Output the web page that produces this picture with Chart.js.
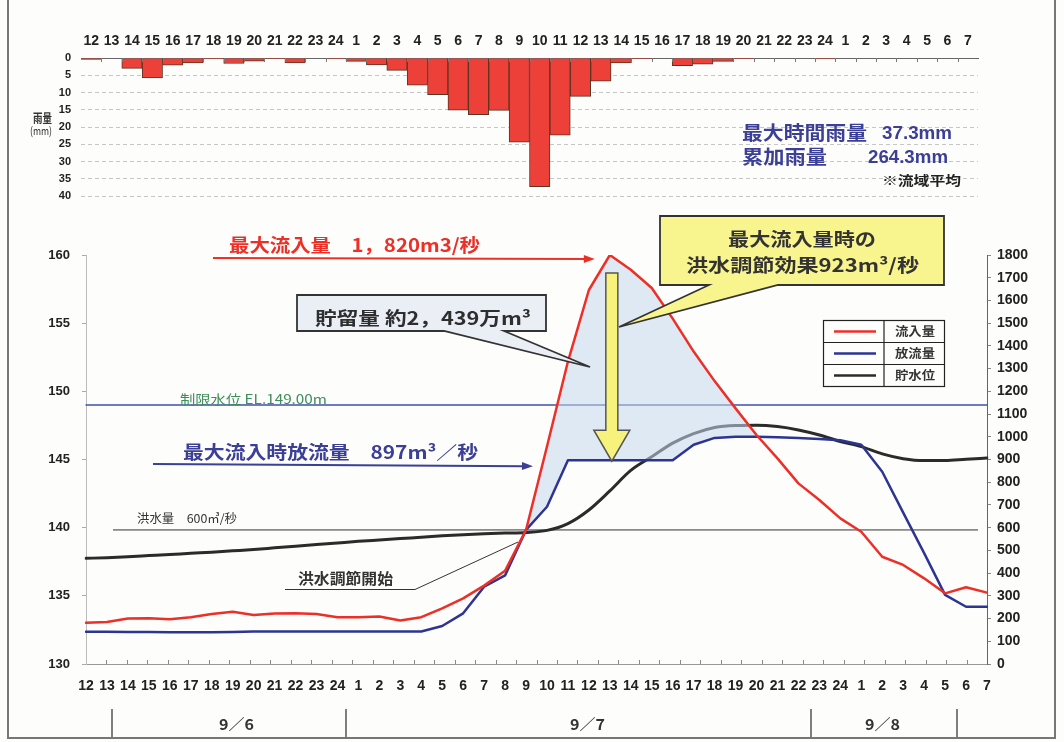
<!DOCTYPE html>
<html lang="ja">
<head>
<meta charset="utf-8">
<title>洪水調節図</title>
<script src="https://cdn.jsdelivr.net/npm/chart.js@4.4.1/dist/chart.umd.min.js"></script>
<style>
  body { margin: 0; background: #fdfdfb; }
  #wrap { position: relative; width: 1064px; height: 742px; }
  canvas { position: absolute; left: 0; top: 0; }
</style>
</head>
<body>
<div id="wrap">
  <canvas id="rainChart" width="1064" height="210"></canvas>
  <canvas id="flowChart" width="1064" height="742"></canvas>
</div>
<script>
// hours from 9/6 12時 to 9/8 7時
const hourLabels = [
  '12','13','14','15','16','17','18','19','20','21','22','23','24',
  '1','2','3','4','5','6','7','8','9','10','11','12','13','14','15','16','17','18','19','20','21','22','23','24',
  '1','2','3','4','5','6','7'
];

// 雨量 (mm)
const rainfall = [0.4,0,3.0,5.8,2.1,1.4,0.3,1.6,0.9,0.2,1.4,0,0.3,
  1.0,2.0,3.6,7.9,10.6,15.1,16.4,15.2,24.4,37.3,22.4,11.1,6.7,1.4,0.2,0,2.2,1.8,1.0,0.2,0,0,0,0.3,
  0,0,0,0,0,0,0];

// 流入量 / 放流量 (m3/s, right axis)
const inflow = [182,185,200,201,197,206,220,230,216,222,223,220,206,
  206,209,191,206,245,289,345,410,590,957,1331,1646,1800,1735,1655,1520,1375,1245,1125,1008,905,795,722,641,
  582,472,436,377,311,338,314];
const outflow = [142,142,141,141,140,140,140,141,143,143,143,143,143,
  143,143,143,143,167,223,340,390,590,692,897,897,897,897,897,897,965,995,1000,1000,998,995,990,985,
  965,846,666,488,304,252,252];

// 貯水位 (EL m, left axis)
const waterLevel = [137.75,137.8,137.87,137.95,138.03,138.12,138.2,138.3,138.4,138.52,138.64,138.76,138.88,
  139.0,139.1,139.2,139.3,139.4,139.48,139.55,139.6,139.65,139.8,140.3,141.3,142.7,144.2,145.2,146.2,146.9,147.35,147.5,147.52,147.42,147.17,146.8,146.32,
  145.94,145.41,145.06,144.92,144.92,145.02,145.11];

const limitLevel = 149.0;   // 制限水位
const floodFlow = 590;      // 洪水量 line
const storageFrom = 21, storageTo = 32;  // shaded storage period
const dayLabels = ['9／6', '9／7', '9／8'];

const SANS = "'Liberation Sans', Arial, sans-serif";
const JP = "'Noto Sans CJK JP', sans-serif";
const NAVY = '#3b3f96';
const RED = '#ec2f27';

// draw text squeezed/stretched to a given width
function fitText(ctx, text, x, y, w, font, color) {
  ctx.save();
  ctx.font = font;
  ctx.fillStyle = color;
  ctx.textBaseline = 'middle';
  ctx.textAlign = 'left';
  const m = ctx.measureText(text).width;
  ctx.translate(x, y);
  ctx.scale(w / m, 1);
  ctx.fillText(text, 0, 0);
  ctx.restore();
}

function arrow(ctx, x1, y1, x2, y2, color) {
  const a = Math.atan2(y2 - y1, x2 - x1);
  const c = Math.cos(a), s = Math.sin(a);
  ctx.save();
  ctx.strokeStyle = color;
  ctx.fillStyle = color;
  ctx.lineWidth = 2;
  ctx.beginPath();
  ctx.moveTo(x1, y1);
  ctx.lineTo(x2 - 8 * c, y2 - 8 * s);
  ctx.stroke();
  ctx.beginPath();
  ctx.moveTo(x2, y2);
  ctx.lineTo(x2 - 11 * c + 4 * s, y2 - 11 * s - 4 * c);
  ctx.lineTo(x2 - 11 * c - 4 * s, y2 - 11 * s + 4 * c);
  ctx.closePath();
  ctx.fill();
  ctx.restore();
}

function line(ctx, pts, color, width) {
  ctx.save();
  ctx.strokeStyle = color;
  ctx.lineWidth = width;
  ctx.beginPath();
  pts.forEach((p, i) => i ? ctx.lineTo(p[0], p[1]) : ctx.moveTo(p[0], p[1]));
  ctx.stroke();
  ctx.restore();
}

// ---------- rainfall chart ----------
const rainDecor = {
  id: 'rainDecor',
  afterDraw(chart) {
    const ctx = chart.ctx;
    const area = chart.chartArea;
    const step = (area.right - area.left) / hourLabels.length;
    // small ticks under the zero line
    ctx.save();
    ctx.strokeStyle = '#777';
    ctx.lineWidth = 1;
    for (let k = 1; k < hourLabels.length; k++) {
      const x = Math.round(area.left + k * step) + 0.5;
      ctx.beginPath();
      ctx.moveTo(x, area.top);
      ctx.lineTo(x, area.top + 4);
      ctx.stroke();
    }
    ctx.restore();

    fitText(ctx, '雨量', 33, 118, 19, 'bold 12px ' + JP, '#333');
    fitText(ctx, '(mm)', 30, 131, 22, '11px ' + JP, '#333');

    fitText(ctx, '最大時間雨量', 742, 133, 125, 'bold 19px ' + JP, NAVY);
    fitText(ctx, '37.3mm', 882, 134, 70, 'bold 19px ' + SANS, NAVY);
    fitText(ctx, '累加雨量', 742, 157, 85, 'bold 19px ' + JP, NAVY);
    fitText(ctx, '264.3mm', 868, 158, 80, 'bold 19px ' + SANS, NAVY);
    fitText(ctx, '※流域平均', 882, 180, 79, 'bold 13px ' + JP, '#222');
  }
};

new Chart(document.getElementById('rainChart'), {
  type: 'bar',
  data: {
    labels: hourLabels,
    datasets: [{
      label: '雨量',
      data: rainfall,
      backgroundColor: '#ec4039',
      borderColor: '#5b3322',
      borderWidth: 1,
      barPercentage: 1,
      categoryPercentage: 1
    }]
  },
  options: {
    responsive: false,
    animation: false,
    devicePixelRatio: 1,
    layout: { padding: { left: 0, top: 0, right: 86, bottom: 14 } },
    plugins: { legend: { display: false }, tooltip: { enabled: false } },
    scales: {
      x: {
        position: 'top',
        grid: { display: false },
        border: { color: '#666', width: 1 },
        ticks: { autoSkip: false, maxRotation: 0, padding: 0, color: '#222',
                 font: { family: SANS, size: 14, weight: 'bold' } },
        afterFit: s => { s.height = 58; s.paddingLeft = 0; s.paddingRight = 0; }
      },
      y: {
        reverse: true,
        min: 0,
        max: 40,
        ticks: { stepSize: 5, autoSkip: false, padding: 10, color: '#222',
                 font: { family: SANS, size: 11, weight: 'bold' } },
        grid: { color: '#c6c6c6', drawTicks: false },
        border: { display: false, dash: [4, 3] },
        afterFit: s => { s.width = 81; s.paddingTop = 0; s.paddingBottom = 0; }
      }
    }
  },
  plugins: [rainDecor]
});

// ---------- flow / water level chart ----------
const flowDecor = {
  id: 'flowDecor',
  beforeDatasetsDraw(chart) {
    const ctx = chart.ctx;
    const xs = chart.scales.x, yR = chart.scales.y1;
    // 洪水量 reference line
    const yf = yR.getPixelForValue(floodFlow);
    line(ctx, [[xs.getPixelForValue(0) + 27, yf], [xs.getPixelForValue(hourLabels.length - 1) - 9, yf]], '#333', 1);
  },
  afterDatasetsDraw(chart) {
    const ctx = chart.ctx;
    const xs = chart.scales.x, yR = chart.scales.y1;
    const area = chart.chartArea;
    const step = (area.right - area.left) / hourLabels.length;

    // x tick marks (upward from axis)
    ctx.save();
    ctx.strokeStyle = '#888';
    ctx.lineWidth = 1;
    for (let k = 1; k < hourLabels.length; k++) {
      const x = Math.round(area.left + k * step) + 0.5;
      ctx.beginPath();
      ctx.moveTo(x, area.bottom);
      ctx.lineTo(x, area.bottom - 4);
      ctx.stroke();
    }
    ctx.restore();

    const peak = Math.max(...inflow);
    const pk = inflow.indexOf(peak);
    const peakX = xs.getPixelForValue(pk);
    const peakY = yR.getPixelForValue(peak);

    // 最大流入量
    fitText(ctx, '最大流入量　1，820m3/秒', 229, 245, 251, 'bold 18px ' + JP, RED);
    arrow(ctx, 213, 258, peakX - 15, peakY + 4, RED);

    // 最大流入時放流量
    const outAtPeak = outflow[pk];
    fitText(ctx, '最大流入時放流量　897m³／秒', 183, 452, 295, 'bold 18px ' + JP, NAVY);
    arrow(ctx, 153, 464, xs.getPixelForValue(22) - 14, yR.getPixelForValue(outAtPeak) + 6, NAVY);

    // 制限水位 label
    fitText(ctx, '制限水位 EL.149.00m', 180, 399, 147, '13px ' + JP, '#3c8f5a');

    // 洪水量 label
    fitText(ctx, '洪水量　600㎥/秒', 137, 518, 100, '12px ' + JP, '#333');

    // 洪水調節開始
    fitText(ctx, '洪水調節開始', 298, 578, 95, 'bold 15px ' + JP, '#333');
    line(ctx, [[285, 589.5], [415, 589.5], [xs.getPixelForValue(storageFrom) - 8, 542]], '#333', 1);

    // yellow down arrow (flood control effect)
    const ax = peakX + 2;
    const aTop = peakY + 18;
    const aTip = yR.getPixelForValue(outAtPeak) + 1;
    ctx.save();
    ctx.fillStyle = '#f6f27c';
    ctx.strokeStyle = '#555';
    ctx.lineWidth = 1.5;
    ctx.beginPath();
    ctx.moveTo(ax - 6, aTop);
    ctx.lineTo(ax + 6, aTop);
    ctx.lineTo(ax + 6, aTip - 31);
    ctx.lineTo(ax + 18, aTip - 31);
    ctx.lineTo(ax, aTip);
    ctx.lineTo(ax - 18, aTip - 31);
    ctx.lineTo(ax - 6, aTip - 31);
    ctx.closePath();
    ctx.fill();
    ctx.stroke();
    ctx.restore();

    // storage callout
    ctx.save();
    ctx.fillStyle = '#eaeff5';
    ctx.strokeStyle = '#333';
    ctx.lineWidth = 1.8;
    ctx.beginPath();
    ctx.moveTo(444, 331);
    ctx.lineTo(297, 331);
    ctx.lineTo(297, 295);
    ctx.lineTo(546, 295);
    ctx.lineTo(546, 331);
    ctx.lineTo(504, 331);
    ctx.lineTo(590, 367);
    ctx.closePath();
    ctx.fill();
    ctx.stroke();
    ctx.restore();
    fitText(ctx, '貯留量 約2，439万m³', 315, 318, 216, 'bold 18px ' + JP, '#2e2e2e');

    // yellow callout
    ctx.save();
    ctx.fillStyle = '#f8f48e';
    ctx.strokeStyle = '#333';
    ctx.lineWidth = 1.8;
    ctx.beginPath();
    ctx.moveTo(709, 285);
    ctx.lineTo(660, 285);
    ctx.lineTo(660, 216);
    ctx.lineTo(944, 216);
    ctx.lineTo(944, 285);
    ctx.lineTo(778, 285);
    ctx.lineTo(619, 327);
    ctx.closePath();
    ctx.fill();
    ctx.stroke();
    ctx.restore();
    fitText(ctx, '最大流入量時の', 728, 239, 148, 'bold 18px ' + JP, '#333');
    fitText(ctx, '洪水調節効果923m³/秒', 686, 265, 233, 'bold 18px ' + JP, '#333');

    // legend box
    const items = [['流入量', RED], ['放流量', '#2d3592'], ['貯水位', '#2b2b2b']];
    ctx.save();
    ctx.fillStyle = '#fdfdfb';
    ctx.fillRect(823, 320, 121, 66);
    ctx.strokeStyle = '#222';
    ctx.lineWidth = 1.2;
    ctx.strokeRect(823.5, 320.5, 121, 66);
    line(ctx, [[884, 320], [884, 386]], '#222', 1.2);
    line(ctx, [[823, 342.5], [944, 342.5]], '#222', 1.2);
    line(ctx, [[823, 364.5], [944, 364.5]], '#222', 1.2);
    items.forEach((it, i) => {
      const cy = 331.5 + i * 22;
      line(ctx, [[834, cy], [876, cy]], it[1], 2.5);
      fitText(ctx, it[0], 895, cy, 40, 'bold 12px ' + JP, '#333');
    });
    ctx.restore();

    // date row
    [112, 346, 811, 957].forEach(x => line(ctx, [[x, 709], [x, 738]], '#555', 1.5));
    fitText(ctx, dayLabels[0], 219, 724, 35, 'bold 15px ' + JP, '#333');
    fitText(ctx, dayLabels[1], 570, 724, 35, 'bold 15px ' + JP, '#333');
    fitText(ctx, dayLabels[2], 865, 724, 35, 'bold 15px ' + JP, '#333');

    // page frame
    line(ctx, [[8, 0], [8, 738], [1055, 738], [1055, 0]], '#777', 2);
  }
};

const shadeColor = 'rgba(196, 216, 238, 0.55)';

new Chart(document.getElementById('flowChart'), {
  type: 'line',
  data: {
    labels: hourLabels,
    datasets: [
      { label: '流入量', data: inflow, yAxisID: 'y1', borderColor: RED, borderWidth: 2.5, order: 1 },
      { label: '放流量', data: outflow, yAxisID: 'y1', borderColor: '#2d3592', borderWidth: 2.5, order: 2 },
      { label: '貯留', data: inflow.map((v, i) => (i >= storageFrom && i <= storageTo) ? v : null),
        yAxisID: 'y1', borderWidth: 0, borderColor: 'transparent',
        fill: { target: 3, above: shadeColor, below: shadeColor }, order: 3 },
      { label: '貯留下端', data: outflow.map((v, i) => (i >= storageFrom && i <= storageTo) ? v : null),
        yAxisID: 'y1', borderWidth: 0, borderColor: 'transparent', order: 3 },
      { label: '貯水位', data: waterLevel, yAxisID: 'y', borderColor: '#2b2b2b', borderWidth: 3,
        cubicInterpolationMode: 'monotone', order: 4 },
      { label: '制限水位', data: hourLabels.map(() => limitLevel), yAxisID: 'y',
        borderColor: '#3f51a6', borderWidth: 1.6, order: 5 }
    ]
  },
  options: {
    responsive: false,
    animation: false,
    devicePixelRatio: 1,
    elements: { point: { radius: 0 }, line: { tension: 0, borderCapStyle: 'round', borderJoinStyle: 'round' } },
    layout: { padding: { left: 0, top: 255, right: 0, bottom: 0 } },
    plugins: { legend: { display: false }, tooltip: { enabled: false } },
    scales: {
      x: {
        grid: { display: false },
        border: { color: '#999', width: 1 },
        ticks: { autoSkip: false, maxRotation: 0, padding: 6, color: '#222',
                 font: { family: SANS, size: 14, weight: 'bold' } },
        afterFit: s => { s.height = 78; s.paddingLeft = 0; s.paddingRight = 0; }
      },
      y: {
        position: 'left',
        min: 130,
        max: 160,
        ticks: { stepSize: 5, padding: 12, color: '#222', callback: v => String(v),
                 font: { family: SANS, size: 13, weight: 'bold' } },
        grid: { drawOnChartArea: false, tickLength: 4, color: '#aaa' },
        border: { color: '#bbb', width: 1 },
        afterFit: s => { s.width = 86; s.paddingTop = 0; s.paddingBottom = 0; }
      },
      y1: {
        position: 'right',
        min: 0,
        max: 1800,
        ticks: { stepSize: 100, autoSkip: false, padding: 6, color: '#222', callback: v => String(v),
                 font: { family: SANS, size: 14, weight: 'bold' } },
        grid: { drawOnChartArea: false, tickLength: 4, color: '#888' },
        border: { color: '#666', width: 1 },
        afterFit: s => { s.width = 77; s.paddingTop = 0; s.paddingBottom = 0; }
      }
    }
  },
  plugins: [flowDecor]
});
</script>
</body>
</html>
